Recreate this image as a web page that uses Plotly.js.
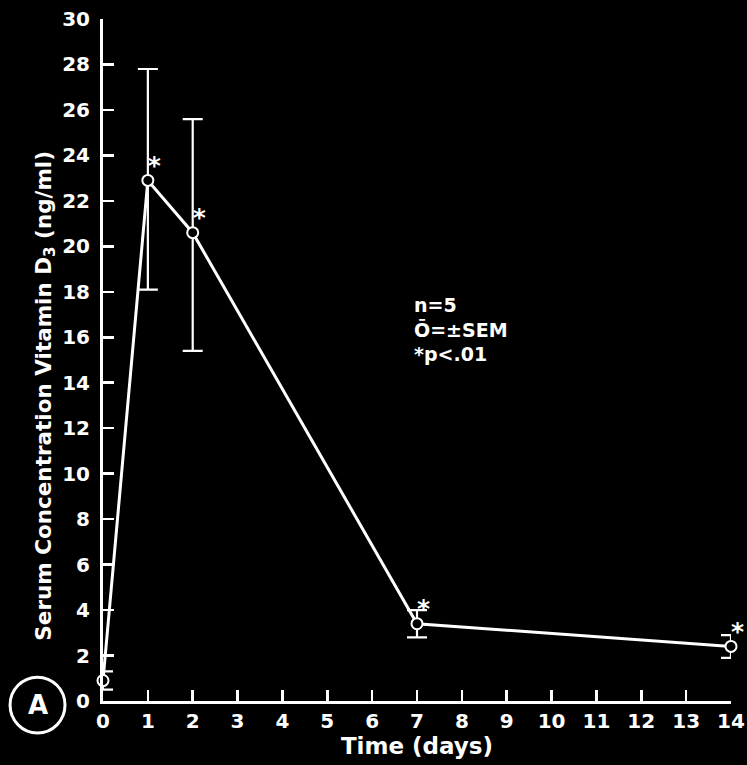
<!DOCTYPE html>
<html>
<head>
<meta charset="utf-8">
<script src="https://cdn.plot.ly/plotly-3.0.1.min.js"></script>
<style>html,body{margin:0;padding:0;background:#000;}#chart{width:747px;height:765px;}</style>
</head>
<body>
<div id="chart"></div>
<script>
const days = [0, 1, 2, 7, 14];
const serumD3 = [0.9, 22.9, 20.6, 3.4, 2.4];
const semUpper = [0.4, 4.9, 5.0, 0.6, 0.5];
const semLower = [0.4, 4.8, 5.2, 0.6, 0.5];
const significant = [false, true, true, true, true];
const xTicks = [0,1,2,3,4,5,6,7,8,9,10,11,12,13,14];
const yTicks = [0,2,4,6,8,10,12,14,16,18,20,22,24,26,28,30];

const starDays = days.filter((d, i) => significant[i]);
const starValues = serumD3.filter((v, i) => significant[i]);

const font = '"DejaVu Sans", Verdana, sans-serif';

const traces = [
  {
    x: days, y: serumD3, type: 'scatter', mode: 'lines+markers',
    line: {color: '#fff', width: 3},
    marker: {symbol: 'circle', size: 11, color: '#000', line: {color: '#fff', width: 2}},
    error_y: {type: 'data', symmetric: false, array: semUpper, arrayminus: semLower,
              color: '#fff', thickness: 2.2, width: 10},
    hoverinfo: 'x+y', showlegend: false, cliponaxis: false
  },
  {
    x: starDays, y: starValues, type: 'scatter', mode: 'text',
    text: starDays.map(() => '*'), textposition: 'top right',
    textfont: {color: '#fff', size: 25, family: font, weight: 'bold'},
    showlegend: false, hoverinfo: 'skip', cliponaxis: false
  }
];

const layout = {
  width: 747, height: 765,
  paper_bgcolor: '#000', plot_bgcolor: '#000',
  margin: {l: 103, r: 16, t: 19, b: 64},
  showlegend: false,
  font: {family: font, color: '#fff'},
  xaxis: {
    range: [0, 14], tickvals: xTicks, ticktext: xTicks.map(String),
    showgrid: false, zeroline: false, showline: true, linecolor: '#fff', linewidth: 3,
    ticks: 'inside', ticklen: 11, tickwidth: 2.5, tickcolor: '#fff',
    tickfont: {size: 20, color: '#fff', family: font, weight: 'bold'},
    title: {text: 'Time (days)', font: {size: 23, color: '#fff', family: font, weight: 'bold'}, standoff: 4}
  },
  yaxis: {
    range: [0, 30], tickvals: yTicks, ticktext: yTicks.map(String),
    showgrid: false, zeroline: false, showline: true, linecolor: '#fff', linewidth: 3,
    ticks: 'inside', ticklen: 11, tickwidth: 2.5, tickcolor: '#fff',
    ticklabelstandoff: 6,
    tickfont: {size: 20, color: '#fff', family: font, weight: 'bold'}
  },
  annotations: [
    {xref: 'paper', yref: 'paper', x: -0.092, y: 0.448, xanchor: 'center', yanchor: 'middle',
     textangle: -90, showarrow: false,
     text: 'Serum Concentration Vitamin D<sub>3</sub> (ng/ml)',
     font: {size: 21.5, color: '#fff', family: font, weight: 'bold'}},
    {xref: 'paper', yref: 'paper', x: 0.492, y: 0.6, xanchor: 'left', yanchor: 'top', align: 'left',
     showarrow: false, text: 'n=5<br>Ō=±SEM<br>*p<.01',
     font: {size: 19, color: '#fff', family: font, weight: 'bold'}},
    {xref: 'paper', yref: 'paper', x: -0.104, y: -0.006, xanchor: 'center', yanchor: 'middle',
     showarrow: false, text: 'A', font: {size: 26, color: '#fff', family: font, weight: 'bold'}}
  ],
  shapes: [
    {type: 'circle', xref: 'paper', yref: 'paper', x0: -0.148, x1: -0.0605, y0: -0.047, y1: 0.035,
     line: {color: '#fff', width: 3}}
  ]
};

Plotly.newPlot('chart', traces, layout, {displayModeBar: false, staticPlot: true});
</script>
</body>
</html>
